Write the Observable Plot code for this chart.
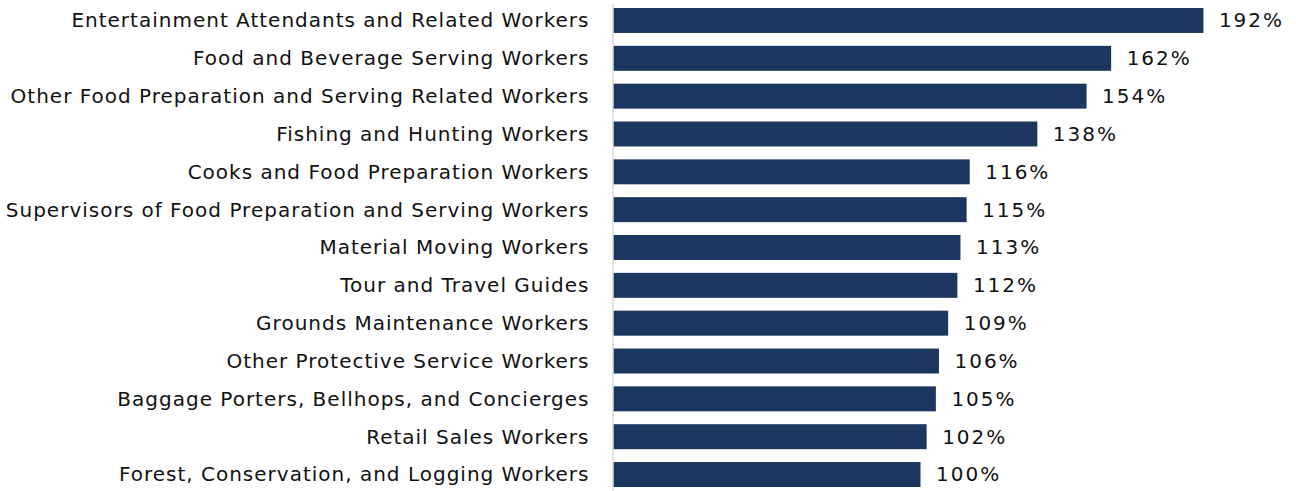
<!DOCTYPE html>
<html>
<head>
<meta charset="utf-8">
<script src="https://cdn.jsdelivr.net/npm/d3@7"></script>
<script src="https://cdn.jsdelivr.net/npm/@observablehq/plot@0.6"></script>
<style>
  html, body { margin: 0; padding: 0; background: #fff; }
  #chart svg { display: block; }
  #chart svg .vals text { letter-spacing: 2px; }
</style>
</head>
<body>
<div id="chart"></div>
<script>
const occupations = [
  "Entertainment Attendants and Related Workers",
  "Food and Beverage Serving Workers",
  "Other Food Preparation and Serving Related Workers",
  "Fishing and Hunting Workers",
  "Cooks and Food Preparation Workers",
  "Supervisors of Food Preparation and Serving Workers",
  "Material Moving Workers",
  "Tour and Travel Guides",
  "Grounds Maintenance Workers",
  "Other Protective Service Workers",
  "Baggage Porters, Bellhops, and Concierges",
  "Retail Sales Workers",
  "Forest, Conservation, and Logging Workers"
];
const percents = [192, 162, 154, 138, 116, 115, 113, 112, 109, 106, 105, 102, 100];

const data = occupations.map((name, i) => ({name, value: percents[i]}));

const font = "DejaVu Sans";
const chart = Plot.plot({
  width: 1296,
  height: 491,
  marginLeft: 613,
  marginRight: 68,
  marginTop: 8,
  marginBottom: 4,
  style: {fontFamily: font, fontSize: "20px", color: "#111", background: "#fff", letterSpacing: "1px"},
  x: {domain: [0, 200], axis: null},
  y: {domain: occupations, paddingInner: 0.34, paddingOuter: 0, round: false, axis: null},
  marks: [
    Plot.barX(data, {x: "value", y: "name", fill: "#1C375F"}),
    Plot.ruleX([0], {stroke: "#d9d9d9", strokeWidth: 1.5, dx: -0.5, insetTop: -4, insetBottom: -4}),
    Plot.text(data, {x: 0, y: "name", text: "name", textAnchor: "end", dx: -24, fontSize: 20, fill: "#111"}),
    Plot.text(data, {x: "value", y: "name", text: d => d.value + "%", textAnchor: "start", dx: 15, fontSize: 20, fill: "#111", className: "vals"})
  ]
});
document.getElementById("chart").appendChild(chart);
</script>
</body>
</html>
